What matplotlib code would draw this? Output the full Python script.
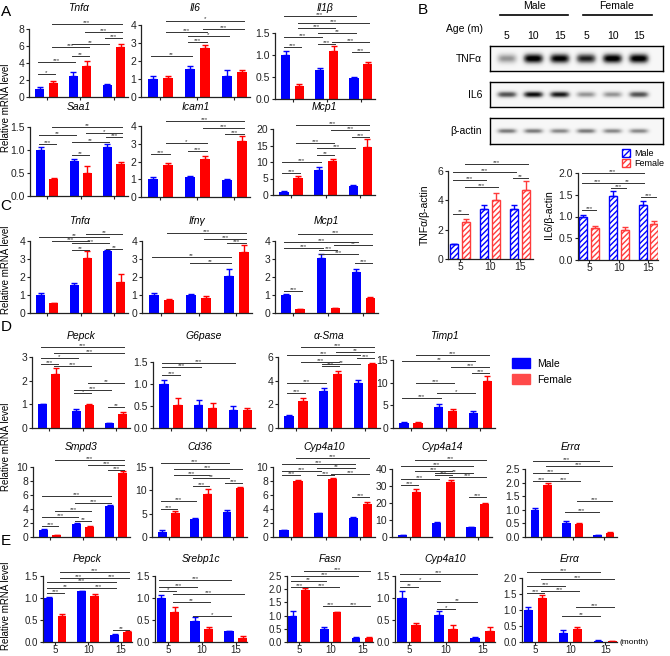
import numpy as np
import matplotlib
matplotlib.use("Agg")
import matplotlib.pyplot as plt
from matplotlib.patches import Patch
from matplotlib.ticker import MultipleLocator, FormatStrFormatter

plt.rcParams['font.family'] = ['Liberation Sans', 'DejaVu Sans']
plt.rcParams['hatch.linewidth'] = 1.0

# ---------------- data (means, upper SEM, significance brackets) ----------------
ages = ['5', '10', '15']
# bar index in brackets: 0=M5 1=F5 2=M10 3=F10 4=M15 5=F15

# A
a_tnfa_male = [1.0, 2.5, 1.4]
a_tnfa_female = [1.7, 3.7, 5.9]
a_tnfa_sem = [[0.12, 0.4, 0.15], [0.2, 0.5, 0.35]]
a_tnfa_sig = [(0, 1, 2.7, '*'), (0, 2, 4.1, '***'), (2, 3, 4.8, '**'), (1, 3, 5.9, '***'),
              (2, 4, 6.2, '**'), (4, 5, 6.9, '***'), (3, 5, 7.6, '***'), (1, 5, 8.6, '***')]

a_il6_male = [1.0, 1.58, 1.18]
a_il6_female = [1.08, 2.72, 1.4]
a_il6_sem = [[0.15, 0.13, 0.3], [0.08, 0.15, 0.1]]
a_il6_sig = [(0, 2, 2.28, '**'), (2, 3, 3.07, '***'), (2, 4, 3.39, '*'), (1, 3, 3.6, '***'),
             (3, 5, 3.76, '***'), (1, 5, 4.25, '*')]

a_il1b_male = [1.0, 0.67, 0.48]
a_il1b_female = [0.3, 1.1, 0.8]
a_il1b_sem = [[0.08, 0.03, 0.02], [0.03, 0.1, 0.05]]
a_il1b_sig = [(4, 5, 1.07, '***'), (0, 1, 1.18, '***'), (2, 3, 1.25, '***'), (3, 5, 1.3, '***'),
              (0, 2, 1.4, '***'), (2, 4, 1.5, '**'), (1, 3, 1.62, '***'), (1, 5, 1.73, '***'),
              (0, 4, 1.89, '***')]

a_saa1_male = [1.0, 0.76, 1.06]
a_saa1_female = [0.37, 0.49, 0.69]
a_saa1_sem = [[0.07, 0.05, 0.06], [0.03, 0.17, 0.04]]
a_saa1_sig = [(2, 3, 0.89, '**'), (0, 1, 1.13, '***'), (2, 4, 1.17, '**'), (4, 5, 1.28, '***'),
              (0, 2, 1.33, '**'), (3, 5, 1.37, '*'), (1, 5, 1.5, '**')]

a_icam1_male = [1.0, 1.1, 0.95]
a_icam1_female = [1.8, 2.15, 3.15]
a_icam1_sem = [[0.15, 0.07, 0.07], [0.1, 0.15, 0.28]]
a_icam1_sig = [(0, 1, 2.4, '***'), (2, 3, 2.6, '***'), (1, 3, 3.05, '*'), (4, 5, 3.55, '***'),
               (3, 5, 3.9, '***'), (1, 5, 4.28, '***')]

a_mcp1_male = [1.0, 7.6, 2.6]
a_mcp1_female = [5.3, 10.4, 14.5]
a_mcp1_sem = [[0.2, 0.9, 0.3], [0.6, 0.5, 2.4]]
a_mcp1_sig = [(0, 1, 6.7, '***'), (0, 2, 10.0, '***'), (2, 3, 12.1, '**'), (2, 4, 14.3, '***'),
              (1, 3, 15.7, '***'), (4, 5, 17.5, '***'), (3, 5, 19.6, '***'), (1, 5, 21.2, '***')]

# C
c_tnfa_male = [1.0, 1.55, 3.45]
c_tnfa_female = [0.55, 3.08, 1.7]
c_tnfa_sem = [[0.1, 0.1, 0.03], [0.03, 0.35, 0.48]]
c_tnfa_sig = [(2, 3, 3.5, '**'), (4, 5, 3.55, '**'), (2, 4, 3.9, '***'), (1, 3, 4.0, '***'),
              (0, 4, 4.2, '**'), (3, 5, 4.4, '**')]

c_ifng_male = [1.0, 1.0, 2.05]
c_ifng_female = [0.7, 0.85, 3.4]
c_ifng_sem = [[0.13, 0.03, 0.38], [0.07, 0.08, 0.35]]
c_ifng_sig = [(2, 4, 2.75, '**'), (0, 4, 3.1, '**'), (4, 5, 3.9, '***'), (3, 5, 4.1, '***'),
              (1, 5, 4.45, '***')]

c_mcp1_male = [1.0, 3.08, 2.28]
c_mcp1_female = [0.2, 0.28, 0.85]
c_mcp1_sem = [[0.05, 0.17, 0.15], [0.03, 0.02, 0.05]]
c_mcp1_sig = [(0, 1, 1.22, '***'), (4, 5, 2.8, '***'), (2, 4, 3.3, '***'), (2, 3, 3.5, '***'),
              (0, 2, 3.6, '***'), (3, 5, 3.75, '**'), (0, 4, 3.95, '***'), (1, 5, 4.4, '***')]

# D
d_pepck_male = [1.0, 0.72, 0.2]
d_pepck_female = [2.3, 0.97, 0.6]
d_pepck_sem = [[0.03, 0.1, 0.02], [0.25, 0.05, 0.07]]
d_pepck_sig = [(4, 5, 0.9, '**'), (2, 3, 1.48, '*'), (2, 4, 1.6, '***'), (3, 5, 1.9, '**'),
               (1, 3, 2.62, '***'), (0, 1, 2.7, '***'), (0, 2, 2.95, '*'), (1, 5, 3.16, '***'),
               (0, 5, 3.42, '***')]

d_g6pase_male = [1.0, 0.53, 0.42]
d_g6pase_female = [0.53, 0.46, 0.4]
d_g6pase_sem = [[0.1, 0.11, 0.08], [0.15, 0.1, 0.05]]
d_g6pase_sig = [(0, 1, 1.2, '***'), (0, 2, 1.39, '***'), (0, 4, 1.48, '***')]

d_asma_male = [1.0, 3.15, 3.8]
d_asma_female = [2.25, 4.6, 5.4]
d_asma_sem = [[0.1, 0.2, 0.25], [0.25, 0.25, 0.08]]
d_asma_sig = [(0, 1, 2.95, '***'), (0, 2, 3.8, '***'), (2, 3, 5.25, '***'), (2, 4, 5.4, '**'),
              (1, 3, 5.55, '***'), (4, 5, 5.9, '***'), (0, 4, 6.2, '***'), (3, 5, 6.4, '**'),
              (1, 5, 6.85, '***')]

d_timp1_male = [1.0, 4.7, 3.2]
d_timp1_female = [1.1, 3.8, 10.3]
d_timp1_sem = [[0.4, 0.5, 0.5], [0.2, 0.5, 1.2]]
d_timp1_sig = [(0, 2, 6.6, '***'), (2, 4, 7.7, '*'), (1, 3, 9.9, '***'), (4, 5, 12.1, '***'),
               (3, 5, 13.5, '***'), (0, 4, 14.8, '**'), (1, 5, 16.1, '***')]

d_smpd3_male = [1.0, 1.9, 4.4]
d_smpd3_female = [0.3, 1.5, 9.2]
d_smpd3_sem = [[0.2, 0.15, 0.15], [0.05, 0.06, 0.2]]
d_smpd3_sig = [(0, 1, 1.6, '***'), (2, 3, 2.3, '**'), (0, 2, 2.9, '***'), (1, 3, 3.7, '***'),
               (2, 4, 4.9, '***'), (0, 4, 5.9, '***'), (4, 5, 9.6, '***'), (3, 5, 10.3, '***'),
               (1, 5, 11.0, '***')]

d_cd36_male = [1.0, 3.9, 5.3]
d_cd36_female = [5.2, 9.2, 10.5]
d_cd36_sem = [[0.6, 0.2, 0.4], [0.3, 1.0, 0.3]]
d_cd36_sig = [(0, 1, 6.0, '***'), (0, 2, 7.7, '***'), (2, 3, 10.9, '***'), (4, 5, 11.5, '***'),
              (2, 4, 12.6, '**'), (1, 3, 13.3, '***'), (1, 5, 14.6, '***'), (0, 4, 15.8, '***')]

d_cyp4a10_male = [1.0, 3.4, 2.7]
d_cyp4a10_female = [8.0, 8.3, 4.7]
d_cyp4a10_sem = [[0.05, 0.1, 0.1], [0.2, 0.2, 0.3]]
d_cyp4a10_sig = [(4, 5, 5.7, '***'), (0, 1, 8.9, '***'), (2, 3, 8.9, '***'), (3, 5, 9.0, '***'),
                 (0, 2, 9.4, '***'), (2, 4, 9.8, '**'), (0, 4, 10.4, '***'), (1, 5, 11.3, '***')]

d_cyp4a14_male = [1.0, 8.5, 5.8]
d_cyp4a14_female = [26.5, 32.5, 19.2]
d_cyp4a14_sem = [[0.4, 0.5, 0.3], [1.5, 1.2, 0.8]]
d_cyp4a14_sig = [(4, 5, 23.5, '***'), (0, 1, 30.6, '***'), (0, 2, 34.0, '***'), (3, 5, 35.3, '***'),
                 (2, 3, 36.5, '***'), (2, 4, 37.6, '**'), (1, 3, 38.6, '***'), (0, 4, 41.8, '***'),
                 (1, 5, 45.3, '***')]

d_erra_male = [1.0, 0.53, 0.08]
d_erra_female = [1.93, 0.48, 0.14]
d_erra_sem = [[0.06, 0.04, 0.01], [0.05, 0.02, 0.03]]
d_erra_sig = [(2, 4, 0.92, '***'), (3, 5, 1.32, '***'), (0, 1, 2.06, '***'), (1, 3, 2.06, '***'),
              (0, 2, 2.35, '***'), (1, 5, 2.61, '***'), (0, 4, 2.79, '***')]

# E
e_pepck_male = [1.0, 1.15, 0.17]
e_pepck_female = [0.6, 1.05, 0.23]
e_pepck_sem = [[0.03, 0.0, 0.01], [0.03, 0.03, 0.01]]
e_pepck_sig = [(4, 5, 0.27, '**'), (0, 1, 1.12, '***'), (0, 2, 1.23, '**'), (2, 4, 1.23, '***'),
               (0, 4, 1.36, '***'), (1, 3, 1.45, '***'), (3, 5, 1.45, '***'), (1, 5, 1.59, '***')]

e_srebp1c_male = [1.0, 0.47, 0.24]
e_srebp1c_female = [0.68, 0.29, 0.09]
e_srebp1c_sem = [[0.07, 0.1, 0.01], [0.12, 0.06, 0.04]]
e_srebp1c_sig = [(2, 4, 0.6, '*'), (1, 3, 0.9, '**'), (1, 5, 1.1, '***'), (0, 1, 1.16, '*'),
                 (0, 2, 1.25, '***'), (0, 4, 1.41, '***')]

e_fasn_male = [1.0, 0.49, 0.17]
e_fasn_female = [1.98, 1.12, 0.17]
e_fasn_sem = [[0.17, 0.08, 0.02], [0.08, 0.03, 0.02]]
e_fasn_sig = [(2, 3, 1.35, '***'), (3, 5, 1.35, '***'), (0, 1, 2.1, '***'), (1, 3, 2.1, '***'),
              (0, 2, 2.3, '**'), (0, 4, 2.5, '***'), (1, 5, 2.69, '***')]

e_cyp4a10_male = [1.0, 0.62, 0.08]
e_cyp4a10_female = [0.38, 0.3, 0.24]
e_cyp4a10_sem = [[0.17, 0.08, 0.03], [0.05, 0.09, 0.09]]
e_cyp4a10_sig = [(2, 3, 0.76, '*'), (2, 4, 0.9, '**'), (0, 1, 1.25, '**'), (0, 2, 1.39, '*'),
                 (0, 4, 1.54, '***')]

e_erra_male = [1.0, 0.29, 0.04]
e_erra_female = [1.38, 0.42, 0.02]
e_erra_sem = [[0.08, 0.08, 0.02], [0.1, 0.05, 0.01]]
e_erra_sig = [(2, 4, 0.8, '**'), (3, 5, 1.08, '***'), (0, 1, 1.54, '***'), (1, 3, 1.6, '***'),
              (0, 2, 1.75, '***'), (1, 5, 1.97, '***'), (0, 4, 2.18, '***')]

# B (western blot quantification)
b_tnf_male = [1.0, 3.4, 3.4]
b_tnf_female = [2.5, 4.0, 4.7]
b_tnf_sem = [[0.03, 0.3, 0.3], [0.25, 0.5, 0.6]]
b_tnf_sig = [(0, 1, 3.1, '**'), (1, 3, 4.9, '***'), (0, 2, 5.4, '***'), (4, 5, 5.5, '**'),
             (0, 4, 5.9, '***'), (1, 5, 6.5, '***')]

b_il6_male = [1.0, 1.48, 1.27]
b_il6_female = [0.73, 0.7, 0.82]
b_il6_sem = [[0.03, 0.1, 0.08], [0.05, 0.05, 0.07]]
b_il6_sig = [(0, 1, 1.15, '***'), (4, 5, 1.45, '***'), (2, 3, 1.65, '***'), (0, 2, 1.78, '***'),
             (2, 4, 1.78, '**'), (0, 4, 2.0, '***')]

# blot band intensities (lanes: M5 M10 M15 F5 F10 F15)
blot_lanes = ['5', '10', '15', '5', '10', '15']
blot_tnf = [0.45, 1.0, 0.97, 0.85, 1.0, 1.0]
blot_il6 = [0.7, 0.92, 0.88, 0.45, 0.45, 0.7]
blot_actin = [0.55, 0.55, 0.5, 0.55, 0.5, 0.5]

# ---------------- figure ----------------
W, H = 670, 656
BLUE = '#0000ff'
RED = '#ff0000'
LINE = '#333333'
fig = plt.figure(figsize=(W / 100, H / 100), dpi=100)


def px(x0, x1, ytop, ybot):
    return [x0 / W, 1 - ybot / H, (x1 - x0) / W, (ybot - ytop) / H]


def bar_panel(rect, male, female, sem, sig, ymax, step, fmt=None,
              xlim=(-0.52, 2.42), xlabels=False, hatch=False, tick_fs=7.5):
    ax = fig.add_axes(rect)
    x = np.arange(len(male))
    off, bw = 0.2, 0.27
    if hatch:
        ax.bar(x - off, male, bw, facecolor='white', edgecolor=BLUE, hatch='//////', lw=1.0)
        ax.bar(x + off, female, bw, facecolor='white', edgecolor='#ff3b3b', hatch='//////', lw=1.0)
    else:
        ax.bar(x - off, male, bw, color=BLUE)
        ax.bar(x + off, female, bw, color=RED)
    ax.errorbar(x - off, male, yerr=[np.zeros(3), sem[0]], fmt='none', ecolor=BLUE,
                elinewidth=1, capsize=2, capthick=1, clip_on=False)
    ax.errorbar(x + off, female, yerr=[np.zeros(3), sem[1]], fmt='none',
                ecolor='#ff3b3b' if hatch else RED, elinewidth=1, capsize=2, capthick=1, clip_on=False)
    for i, j, y, lab in sig:
        xi = i // 2 + (off if i % 2 else -off)
        xj = j // 2 + (off if j % 2 else -off)
        ax.plot([xi - 0.05, xj + 0.05], [y, y], color=LINE, lw=0.7, clip_on=False)
        ax.text((xi + xj) / 2, y, lab, ha='center', va='baseline', fontsize=4.5,
                color=LINE, clip_on=False)
    ax.set_xlim(*xlim)
    ax.set_ylim(0, ymax)
    ax.yaxis.set_major_locator(MultipleLocator(step))
    if fmt:
        ax.yaxis.set_major_formatter(FormatStrFormatter(fmt))
    for s in ['top', 'right']:
        ax.spines[s].set_visible(False)
    for s in ['left', 'bottom']:
        ax.spines[s].set_linewidth(0.9)
        ax.spines[s].set_color('#222222')
    ax.set_xticks(x)
    ax.set_xticklabels(ages if xlabels else [])
    ax.tick_params(labelsize=tick_fs, length=2.5, width=0.8, pad=1, colors='#222222')
    ax.tick_params(axis='x', length=2, pad=0.5)
    return ax


def title(rect, text, y):
    xc = (rect[0] + rect[2] / 2) * W
    fig.text(xc / W, 1 - y / H, text, ha='center', va='center', fontsize=7.5, style='italic')


panels = [
    # rect, title, title_y, male, female, sem, sig, ymax, step, fmt
    (px(29, 128, 29, 97), 'Tnfα', 8, a_tnfa_male, a_tnfa_female, a_tnfa_sem, a_tnfa_sig, 8, 2, None),
    (px(141, 250, 25, 97), 'Il6', 8, a_il6_male, a_il6_female, a_il6_sem, a_il6_sig, 4, 1, None),
    (px(275, 375, 33, 99), 'Il1β', 8, a_il1b_male, a_il1b_female, a_il1b_sem, a_il1b_sig, 1.5, 0.5, '%.1f'),
    (px(30, 128, 127, 196), 'Saa1', 107, a_saa1_male, a_saa1_female, a_saa1_sem, a_saa1_sig, 1.5, 0.5, '%.1f'),
    (px(141, 250, 126, 197), 'Icam1', 107, a_icam1_male, a_icam1_female, a_icam1_sem, a_icam1_sig, 4, 1, None),
    (px(273, 375, 129, 195), 'Mcp1', 107, a_mcp1_male, a_mcp1_female, a_mcp1_sem, a_mcp1_sig, 20, 5, None),
    (px(30, 128, 241, 313), 'Tnfα', 221, c_tnfa_male, c_tnfa_female, c_tnfa_sem, c_tnfa_sig, 4, 1, None),
    (px(142, 252, 241, 313), 'Ifnγ', 221, c_ifng_male, c_ifng_female, c_ifng_sem, c_ifng_sig, 4, 1, None),
    (px(275, 378, 241, 313), 'Mcp1', 221, c_mcp1_male, c_mcp1_female, c_mcp1_sem, c_mcp1_sig, 4, 1, None),
    (px(32, 130, 357, 428), 'Pepck', 336, d_pepck_male, d_pepck_female, d_pepck_sem, d_pepck_sig, 3, 1, None),
    (px(153, 255, 362, 428), 'G6pase', 336, d_g6pase_male, d_g6pase_female, d_g6pase_sem, d_g6pase_sig, 1.5, 0.5, '%.1f'),
    (px(278, 380, 357, 428), 'α-Sma', 336, d_asma_male, d_asma_female, d_asma_sem, d_asma_sig, 6, 2, None),
    (px(393, 495, 360, 428), 'Timp1', 336, d_timp1_male, d_timp1_female, d_timp1_sem, d_timp1_sig, 15, 5, None),
    (px(33, 130, 467, 537), 'Smpd3', 447, d_smpd3_male, d_smpd3_female, d_smpd3_sem, d_smpd3_sig, 10, 2, None),
    (px(152, 247, 467, 537), 'Cd36', 447, d_cd36_male, d_cd36_female, d_cd36_sem, d_cd36_sig, 15, 5, None),
    (px(273, 375, 467, 537), 'Cyp4a10', 447, d_cyp4a10_male, d_cyp4a10_female, d_cyp4a10_sem, d_cyp4a10_sig, 10, 2, None),
    (px(392, 492, 469, 537), 'Cyp4a14', 447, d_cyp4a14_male, d_cyp4a14_female, d_cyp4a14_sem, d_cyp4a14_sig, 40, 10, None),
    (px(525, 617, 469, 537), 'Errα', 447, d_erra_male, d_erra_female, d_erra_sem, d_erra_sig, 2.5, 0.5, '%.1f'),
]
panels_e = [
    (px(43, 132, 576, 642), 'Pepck', 559, e_pepck_male, e_pepck_female, e_pepck_sem, e_pepck_sig, 1.5, 0.5, '%.1f'),
    (px(155, 247, 576, 642), 'Srebp1c', 559, e_srebp1c_male, e_srebp1c_female, e_srebp1c_sem, e_srebp1c_sig, 1.5, 0.5, '%.1f'),
    (px(287, 373, 576, 642), 'Fasn', 559, e_fasn_male, e_fasn_female, e_fasn_sem, e_fasn_sig, 2.5, 0.5, '%.1f'),
    (px(395, 495, 576, 642), 'Cyp4a10', 559, e_cyp4a10_male, e_cyp4a10_female, e_cyp4a10_sem, e_cyp4a10_sig, 1.5, 0.5, '%.1f'),
    (px(522, 617, 578, 642), 'Errα', 559, e_erra_male, e_erra_female, e_erra_sem, e_erra_sig, 2.0, 0.5, '%.1f'),
]

for rect, t, ty, m, f, se, sg, ymax, step, fmt in panels:
    bar_panel(rect, m, f, se, sg, ymax, step, fmt)
    title(rect, t, ty)
for rect, t, ty, m, f, se, sg, ymax, step, fmt in panels_e:
    bar_panel(rect, m, f, se, sg, ymax, step, fmt, xlim=(-0.38, 2.33), xlabels=True, tick_fs=7)
    title(rect, t, ty)

# B quantification
bar_panel(px(448, 533, 171, 259), b_tnf_male, b_tnf_female, b_tnf_sem, b_tnf_sig, 6, 2,
          xlim=(-0.4, 2.42), xlabels=True, hatch=True)
bar_panel(px(578, 658, 173, 260), b_il6_male, b_il6_female, b_il6_sem, b_il6_sig, 2.0, 0.5, '%.1f',
          xlim=(-0.37, 2.32), xlabels=True, hatch=True)
fig.text(425 / W, 1 - 215 / H, 'TNFα/β-actin', rotation=90, ha='center', va='center', fontsize=7.5)
fig.text(549 / W, 1 - 215 / H, 'IL6/β-actin', rotation=90, ha='center', va='center', fontsize=7.5)
fig.legend(handles=[Patch(facecolor='white', edgecolor=BLUE, hatch='/////', label='Male'),
                    Patch(facecolor='white', edgecolor='#ff3b3b', hatch='/////', label='Female')],
           loc='upper left', bbox_to_anchor=(622 / W, 1 - 149 / H), frameon=False, fontsize=6.5,
           handlelength=0.9, handleheight=0.9, handletextpad=0.5, labelspacing=0.15,
           borderpad=0, borderaxespad=0)


# B western blot
def blot(rect, levels, label, sy):
    ax = fig.add_axes(rect)
    xs = np.linspace(-0.64, 5.91, 400)
    ys = np.linspace(0, 1, 80)
    X, Y = np.meshgrid(xs, ys)
    img = np.full_like(X, 0.06)
    for k, lv in enumerate(levels):
        img += lv * np.exp(-((X - k) / 0.38) ** 4) * np.exp(-((Y - 0.5) / sy) ** 2)
    ax.imshow(img, extent=(-0.64, 5.91, 0, 1), cmap='Greys', vmin=0, vmax=1.0,
              aspect='auto', interpolation='bilinear', origin='lower')
    ax.set_xlim(-0.64, 5.91)
    ax.set_ylim(0, 1)
    ax.set_xticks([])
    ax.set_yticks([])
    for s in ax.spines.values():
        s.set_linewidth(1.0)
    fig.text(482 / W, rect[1] + rect[3] / 2, label, ha='right', va='center', fontsize=7.5)
    return ax


ax_tnf = blot(px(490, 663, 46, 71), blot_tnf, 'TNFα', 0.2)
blot(px(490, 663, 82, 107), blot_il6, 'IL6', 0.13)
blot(px(490, 663, 118, 144), blot_actin, 'β-actin', 0.1)
for k, lab in enumerate(blot_lanes):
    ax_tnf.text(k, 1.4, lab, transform=ax_tnf.get_xaxis_transform(), ha='center',
                va='center', fontsize=7.5)
fig.text(465 / W, 1 - 29 / H, 'Age (m)', ha='center', va='center', fontsize=7.5)
fig.text(534 / W, 1 - 6 / H, 'Male', ha='center', va='center', fontsize=7.5)
fig.text(617 / W, 1 - 6 / H, 'Female', ha='center', va='center', fontsize=7.5)
fig.add_artist(plt.Line2D([500 / W, 568 / W], [1 - 15 / H] * 2, color='k', lw=1.2))
fig.add_artist(plt.Line2D([583 / W, 652 / W], [1 - 15 / H] * 2, color='k', lw=1.2))

# D legend
fig.legend(handles=[Patch(color=BLUE, label='Male'), Patch(color='#ff4a4a', label='Female')],
           loc='upper left', bbox_to_anchor=(512 / W, 1 - 358 / H), frameon=False, fontsize=7.5,
           handlelength=1.7, handleheight=1.1, handletextpad=0.7, labelspacing=0.55,
           borderpad=0, borderaxespad=0)

# y labels and panel letters
for yc in [108, 270, 447, 606]:
    fig.text(6 / W, 1 - yc / H, 'Relative mRNA level', rotation=90, ha='center', va='center', fontsize=7)
for lab, xx, yy in [('A', 6, 12), ('B', 423, 10), ('C', 6, 206), ('D', 6, 327), ('E', 6, 541)]:
    fig.text(xx / W, 1 - yy / H, lab, ha='center', va='center', fontsize=11)
fig.text(620 / W, 1 - 642 / H, '(month)', ha='left', va='center', fontsize=6)

fig.savefig('out.png', dpi=100)
